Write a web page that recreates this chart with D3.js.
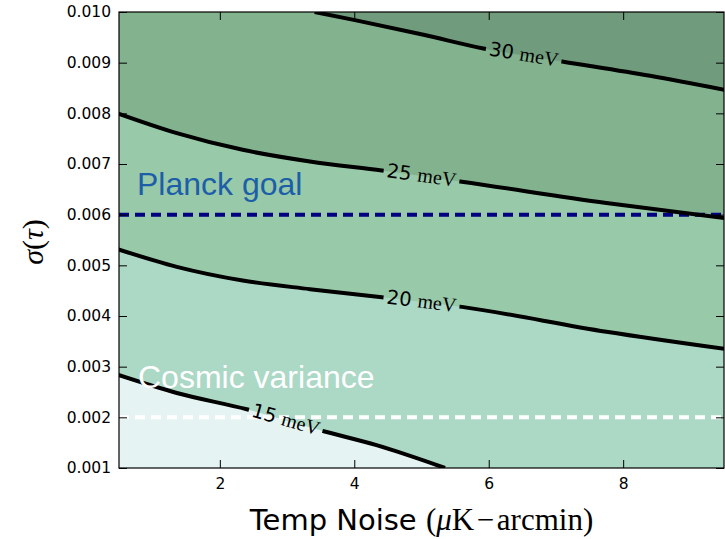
<!DOCTYPE html>
<html>
<head>
<meta charset="utf-8">
<title>Temp noise vs sigma(tau)</title>
<style>
    body { margin: 0; background: #fff; }
    text { font-family: "DejaVu Sans", sans-serif; }
</style>
</head>
<body>
<script src="https://d3js.org/d3.v7.min.js"></script>
<script>
// tick values
var noiseTicks = [2, 4, 6, 8];
var sigmaTicks = [0.001, 0.002, 0.003, 0.004, 0.005, 0.006, 0.007, 0.008, 0.009, 0.010];

// contour levels (meV) and the iso-lines: [noise, sigma]
var levels = [15, 20, 25, 30];
var line15 = [[0.48, 0.00284], [1.36, 0.00248], [2.40, 0.00216], [3.56, 0.00172], [4.33, 0.00145], [5.35, 0.00100]];
var line20 = [[0.48, 0.00532], [1.36, 0.00497], [2.34, 0.00470], [3.34, 0.00453], [4.41, 0.00437], [5.60, 0.00418], [7.75, 0.00369], [9.52, 0.00335]];
var line25 = [[0.48, 0.00800], [1.36, 0.00761], [2.34, 0.00728], [3.34, 0.00705], [4.41, 0.00687], [5.60, 0.00665], [7.75, 0.00623], [9.52, 0.00593]];
var line30 = [[3.41, 0.01000], [4.01, 0.00984], [5.03, 0.00955], [5.92, 0.00928], [7.11, 0.00902], [8.40, 0.00874], [9.52, 0.00846]];
var labelNoise = [2.98, 5.0, 5.0, 6.52];

// reference lines
var refSigma = [0.006, 0.002];
var refNames = ["Planck goal", "Cosmic variance"];

var contourLines = [line15, line20, line25, line30];
var fills = ["#e5f3f2", "#acd8c6", "#98c9a9", "#82b28e", "#709b7c"];

var W = 725, H = 539;
var x = d3.scaleLinear().domain([0.5, 9.5]).range([119, 724]);
var y = d3.scaleLinear().domain([0.001, 0.010]).range([468, 12]);

var svg = d3.select("body").append("svg")
    .attr("width", W)
    .attr("height", H);

var defs = svg.append("defs");
defs.append("clipPath").attr("id", "plotClip")
    .append("rect")
    .attr("x", x.range()[0]).attr("y", y.range()[1])
    .attr("width", x.range()[1] - x.range()[0])
    .attr("height", y.range()[0] - y.range()[1]);

var plot = svg.append("g").attr("clip-path", "url(#plotClip)");

//base colour, below the lowest level
plot.append("rect")
    .attr("x", x.range()[0]).attr("y", y.range()[1])
    .attr("width", x.range()[1] - x.range()[0])
    .attr("height", y.range()[0] - y.range()[1])
    .attr("fill", fills[0]);

var lineGen = d3.line()
    .x(function(d){ return x(d[0]); })
    .y(function(d){ return y(d[1]); })
    .curve(d3.curveMonotoneX);

// fill region above each iso-line
var xd = x.domain(), yd = y.domain();
contourLines.forEach(function(pts, i){
    var corners = [[xd[1] + 1, yd[0] - 0.001], [xd[1] + 1, yd[1] + 0.001], [xd[0] - 1, yd[1] + 0.001]];
    var d = lineGen(pts) + corners.map(function(c){ return "L" + x(c[0]) + "," + y(c[1]); }).join("") + "Z";
    plot.append("path").attr("d", d).attr("fill", fills[i + 1]);
});

// dashed reference lines
var refColors = ["#000080", "#ffffff"];
refSigma.forEach(function(s, i){
    plot.append("line")
        .attr("x1", x.range()[0]).attr("x2", x.range()[1])
        .attr("y1", y(s)).attr("y2", y(s))
        .attr("stroke", refColors[i])
        .attr("stroke-width", 4)
        .attr("stroke-dasharray", "10,6");
});

// interpolate a point on a line (pixel space)
function pointAt(pts, nx){
    for (var k = 0; k < pts.length - 1; k++){
        var a = pts[k], b = pts[k + 1];
        if (nx >= a[0] && nx <= b[0]){
            var t = (nx - a[0]) / (b[0] - a[0]);
            return [x(a[0] + t * (b[0] - a[0])), y(a[1] + t * (b[1] - a[1]))];
        }
    }
    return [x(pts[0][0]), y(pts[0][1])];
}

// contour labels
var labelG = svg.append("g");
var mask = defs.append("mask").attr("id", "gapMask")
    .attr("maskUnits", "userSpaceOnUse")
    .attr("x", 0).attr("y", 0).attr("width", W).attr("height", H);
mask.append("rect").attr("width", W).attr("height", H).attr("fill", "white");

levels.forEach(function(lv, i){
    var pts = contourLines[i];
    var c = pointAt(pts, labelNoise[i]);
    var p0 = pointAt(pts, labelNoise[i] - 0.4), p1 = pointAt(pts, labelNoise[i] + 0.4);
    var ang = Math.atan2(p1[1] - p0[1], p1[0] - p0[0]) * 180 / Math.PI;
    var g = labelG.append("g")
        .attr("transform", "translate(" + c[0] + "," + c[1] + ") rotate(" + ang + ")");
    var t = g.append("text")
        .attr("text-anchor", "middle")
        .attr("dy", "0.36em")
        .attr("fill", "#000");
    t.append("tspan").style("font-family", "'DejaVu Sans'").style("font-size", "19.5px").text(lv + " ");
    t.append("tspan").style("font-family", "'Liberation Serif', serif").style("font-size", "20px").text("meV");
    var bw = t.node().getBBox().width + 6;
    mask.append("rect")
        .attr("x", -bw / 2).attr("y", -14)
        .attr("width", bw).attr("height", 28)
        .attr("fill", "black")
        .attr("transform", "translate(" + c[0] + "," + c[1] + ") rotate(" + ang + ")");
});

// contour lines
var linesG = plot.append("g").attr("mask", "url(#gapMask)");
contourLines.forEach(function(pts){
    linesG.append("path")
        .attr("d", lineGen(pts))
        .attr("fill", "none")
        .attr("stroke", "#000")
        .attr("stroke-width", 4);
});
labelG.raise();

// axes, ticks inward on all four sides
function styleAxis(g){
    g.select(".domain").remove();
    g.selectAll("line").attr("stroke", "#000");
    g.selectAll("text")
        .attr("fill", "#000")
        .style("font-family", "'DejaVu Sans'")
        .style("font-size", "15.5px");
}
svg.append("g")
    .attr("transform", "translate(" + x.range()[0] + ",0)")
    .call(d3.axisLeft(y).tickValues(sigmaTicks).tickFormat(d3.format(".3f")).tickSizeInner(-8).tickSizeOuter(0).tickPadding(8))
    .call(styleAxis);
svg.append("g")
    .attr("transform", "translate(" + x.range()[1] + ",0)")
    .call(d3.axisRight(y).tickValues(sigmaTicks).tickFormat("").tickSizeInner(-8).tickSizeOuter(0))
    .call(styleAxis);
svg.append("g")
    .attr("transform", "translate(0," + y.range()[0] + ")")
    .call(d3.axisBottom(x).tickValues(noiseTicks).tickFormat(d3.format("d")).tickSizeInner(-8).tickSizeOuter(0).tickPadding(10))
    .call(styleAxis);
svg.append("g")
    .attr("transform", "translate(0," + y.range()[1] + ")")
    .call(d3.axisTop(x).tickValues(noiseTicks).tickFormat("").tickSizeInner(-8).tickSizeOuter(0))
    .call(styleAxis);

// frame
svg.append("rect")
    .attr("x", x.range()[0]).attr("y", y.range()[1])
    .attr("width", x.range()[1] - x.range()[0])
    .attr("height", y.range()[0] - y.range()[1])
    .attr("fill", "none")
    .attr("stroke", "#000")
    .attr("stroke-width", 1.2);

// annotations
svg.append("text")
    .attr("x", x.range()[0] + 18).attr("y", y(refSigma[0]) - 20)
    .style("font-family", "'Liberation Sans', Arial, sans-serif")
    .style("font-size", "32px")
    .attr("fill", "#1c5ea8")
    .text(refNames[0]);
svg.append("text")
    .attr("x", x.range()[0] + 19).attr("y", y(refSigma[1]) - 29)
    .style("font-family", "'Liberation Sans', Arial, sans-serif")
    .style("font-size", "32px")
    .attr("fill", "#ffffff")
    .text(refNames[1]);

// axis labels
var xl = svg.append("text")
    .attr("x", (x.range()[0] + x.range()[1]) / 2)
    .attr("y", 530)
    .attr("text-anchor", "middle")
    .attr("fill", "#000");
xl.append("tspan").style("font-family", "'DejaVu Sans'").style("font-size", "29px").text("Temp Noise ");
xl.append("tspan").style("font-family", "'Liberation Serif', serif").style("font-size", "31px").text("(");
xl.append("tspan").style("font-family", "'Liberation Serif', serif").style("font-size", "31px").style("font-style", "italic").text("μ");
xl.append("tspan").style("font-family", "'Liberation Serif', serif").style("font-size", "31px").text("K\u200a\u2212\u200aarcmin)");

var yl = svg.append("text")
    .attr("transform", "translate(43,242) rotate(-90)")
    .attr("text-anchor", "middle")
    .attr("fill", "#000")
    .style("font-family", "'Liberation Serif', serif")
    .style("font-size", "30px");
yl.append("tspan").style("font-style", "italic").text("σ");
yl.append("tspan").text("(");
yl.append("tspan").style("font-style", "italic").text("τ");
yl.append("tspan").text(")");
</script>
</body>
</html>
